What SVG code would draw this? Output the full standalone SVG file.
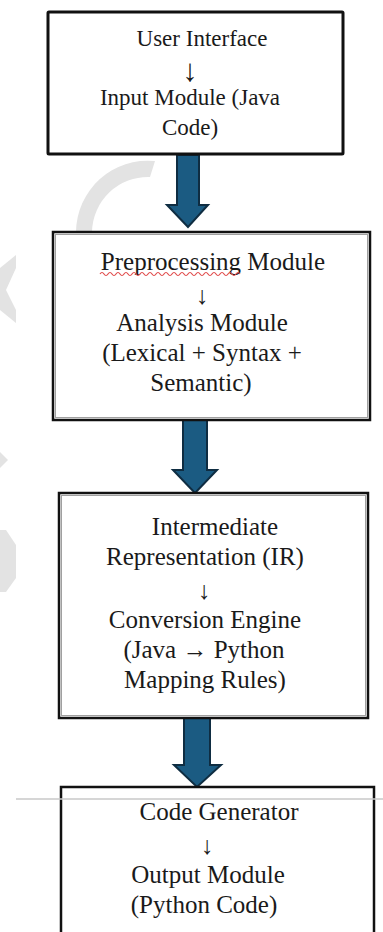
<svg xmlns="http://www.w3.org/2000/svg" width="383" height="932" viewBox="0 0 383 932">
<style>
.t{font-family:"Liberation Serif","Times New Roman",serif;font-size:25px;fill:#1a1a1a;text-anchor:middle}
.t1{font-size:23px}
.big{font-size:31px}
.wm{fill:#e3e3e3}
.box{fill:#fff;stroke:#111}
.inner{fill:none;stroke:#a0a0a0;stroke-width:1}
.arr{fill:#1b5b82;stroke:#0f2d42;stroke-width:2;stroke-linejoin:miter}
</style>
<rect width="383" height="932" fill="#fff"/>
<g id="watermark">
<path class="wm" d="M155,161 A72,72 0 0 0 76,232 L92,232 A56,56 0 0 1 150,177 Z"/>
<polygon class="wm" points="0,268 16,255 16,268 6,290 16,310 16,323 0,310"/>
<polygon class="wm" points="0,452 8,460 0,468"/>
<polygon class="wm" points="0,530 6,530 16,545 16,578 6,592 0,592"/>
</g>
<g id="connectors">
<polygon class="arr" points="177,155 199,155 199,205 208,205 188,227 167,205 177,205"/>
<polygon class="arr" points="183,420 207,420 207,470 217,470 195,493 173,470 183,470"/>
<polygon class="arr" points="184,718 210,718 210,765 221,765 197,787 174,765 184,765"/>
</g>
<g id="node1">
<rect class="box" x="48" y="12" width="295" height="142" stroke-width="3" rx="1"/>
<text class="t t1" x="202" y="46">User Interface</text>
<text class="t big" x="190" y="81">↓</text>
<text class="t t1" x="190" y="105">Input Module (Java</text>
<text class="t t1" x="190" y="135">Code)</text>
</g>
<g id="node2">
<rect class="box" x="53" y="232" width="317" height="188" stroke-width="2.5"/>
<rect class="inner" x="55.5" y="234.5" width="312" height="183"/>
<text class="t" x="213" y="270">Preprocessing Module</text>
<path d="M100,274 q2,-3 4,0 t4,0 t4,0 t4,0 t4,0 t4,0 t4,0 t4,0 t4,0 t4,0 t4,0 t4,0 t4,0 t4,0 t4,0 t4,0 t4,0 t4,0 t4,0 t4,0 t4,0 t4,0 t4,0 t4,0 t4,0 t4,0 t4,0 t4,0 t4,0 t4,0 t4,0 t4,0 t4,0 t4,0 t4,0" fill="none" stroke="#e04a4a" stroke-width="1.2"/>
<text class="t" x="202" y="304">↓</text>
<text class="t" x="202" y="331">Analysis Module</text>
<text class="t" x="202" y="361">(Lexical + Syntax +</text>
<text class="t" x="201" y="391">Semantic)</text>
</g>
<g id="node3">
<rect class="box" x="59" y="493" width="309" height="225" stroke-width="2.5"/>
<rect class="inner" x="61.5" y="495.5" width="304" height="220"/>
<text class="t" x="215" y="535">Intermediate</text>
<text class="t" x="205" y="565">Representation (IR)</text>
<text class="t" x="204" y="599">↓</text>
<text class="t" x="205" y="628">Conversion Engine</text>
<text class="t" x="204" y="658">(Java → Python</text>
<text class="t" x="205" y="688">Mapping Rules)</text>
</g>
<g id="node4">
<rect class="box" x="61" y="787" width="313" height="160" stroke-width="2.5"/>
<line x1="16" y1="799" x2="383" y2="799" stroke="#c8c8c8" stroke-width="1.5"/>
<text class="t" x="219" y="820">Code Generator</text>
<text class="t" x="207" y="854">↓</text>
<text class="t" x="208" y="883">Output Module</text>
<text class="t" x="204" y="913">(Python Code)</text>
</g>
</svg>
